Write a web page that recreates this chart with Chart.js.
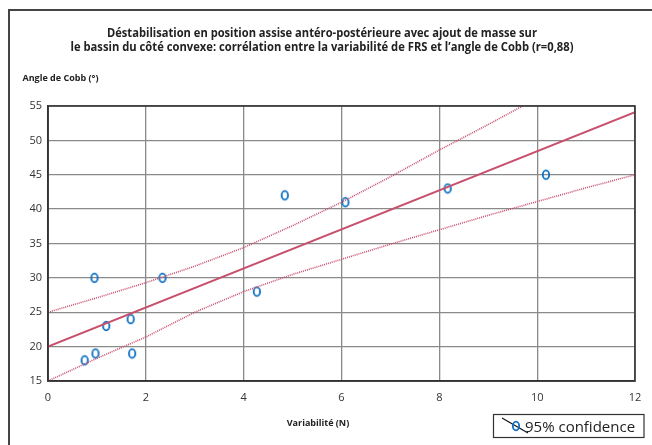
<!DOCTYPE html>
<html lang="fr">
<head>
  <meta charset="UTF-8">
  <title>Angle de Cobb vs variabilité</title>
  <style>
    body {
      margin: 0;
      padding: 0;
      background: #fff;
    }
  </style>
  <script src="https://cdn.jsdelivr.net/npm/chart.js"></script>
</head>
<body>
  <canvas id="chart" width="652" height="445"></canvas>

  <script>
    // points
    const variabilite = [0.75, 0.97, 0.95, 1.19, 1.69, 1.72, 2.34, 4.27, 4.84, 6.08, 8.17, 10.18];
    const angleCobb   = [18, 19, 30, 23, 24, 19, 30, 28, 42, 41, 43, 45];

    // regression line
    const regX = [0, 12];
    const regY = [20, 54.1];

    // 95% confidence bands
    const upperX = [0, 1, 2, 3, 4, 5, 6, 7, 8, 9, 9.7];
    const upperY = [25, 27.1, 29.3, 31.7, 34.4, 37.6, 41.0, 44.7, 48.6, 52.3, 55];
    const lowerX = [0, 1, 2, 3, 4, 5, 6, 7, 8, 9, 10, 11, 12];
    const lowerY = [15, 18.3, 21.4, 25.0, 28.0, 30.5, 32.7, 34.9, 37.0, 39.1, 41.1, 43.1, 45];

    const xTicks = [0, 2, 4, 6, 8, 10, 12];
    const yTicks = [15, 20, 25, 30, 35, 40, 45, 50, 55];

    const titleLines = [
      "Déstabilisation en position assise antéro-postérieure avec ajout de masse sur",
      "le bassin du côté convexe: corrélation entre la variabilité de FRS et l’angle de Cobb (r=0,88)"
    ];

    const toXY = (xs, ys) => xs.map((x, i) => ({ x: x, y: ys[i] }));

    // blue "O" marker
    function makeMarker() {
      const c = document.createElement("canvas");
      c.width = 10;
      c.height = 12;
      const g = c.getContext("2d");
      g.strokeStyle = "#0a6fc2";
      g.lineWidth = 1.8;
      g.beginPath();
      g.ellipse(5, 6, 3.2, 4.3, 0, 0, Math.PI * 2);
      g.stroke();
      return c;
    }
    const marker = makeMarker();

    const red = "#c8506e";

    const decorations = {
      id: "decorations",
      afterDraw(chart) {
        const ctx = chart.ctx;
        const a = chart.chartArea;
        ctx.save();

        // outer frame
        ctx.strokeStyle = "#444";
        ctx.lineWidth = 2;
        ctx.beginPath();
        ctx.moveTo(9, 450);
        ctx.lineTo(9, 10);
        ctx.lineTo(660, 10);
        ctx.stroke();

        // plot frame
        ctx.strokeStyle = "#333";
        ctx.lineWidth = 1.6;
        ctx.strokeRect(a.left, a.top, a.right - a.left, a.bottom - a.top);

        // title
        ctx.fillStyle = "#222";
        ctx.textAlign = "center";
        ctx.textBaseline = "middle";
        ctx.font = "bold 12.5px 'Open Sans'";
        ctx.fillText(titleLines[0], 322, 33, 430);
        ctx.fillText(titleLines[1], 322, 47, 503);

        // axis titles
        ctx.font = "bold 9px 'Open Sans'";
        ctx.textAlign = "left";
        ctx.fillText("Angle de Cobb (°)", 22.5, 78.5, 78);
        ctx.textAlign = "center";
        ctx.fillText("Variabilité (N)", 318, 423, 78);

        // legend
        ctx.strokeStyle = "#333";
        ctx.lineWidth = 1.2;
        ctx.strokeRect(493.5, 414.5, 150.5, 23);
        ctx.strokeStyle = "#111";
        ctx.lineWidth = 1.2;
        ctx.beginPath();
        ctx.moveTo(502, 418);
        ctx.lineTo(528, 433);
        ctx.stroke();
        ctx.drawImage(marker, 511, 420);
        ctx.fillStyle = "#222";
        ctx.textAlign = "left";
        ctx.textBaseline = "alphabetic";
        ctx.font = "15px 'Open Sans'";
        ctx.fillText("95% confidence", 525, 432, 116);

        ctx.restore();
      }
    };

    new Chart(document.getElementById("chart"), {
      type: "scatter",
      data: {
        datasets: [
          {
            label: "Confiance sup.",
            data: toXY(upperX, upperY),
            showLine: true,
            borderColor: red,
            borderWidth: 1.6,
            borderDash: [1, 1],
            pointRadius: 0
          },
          {
            label: "Confiance inf.",
            data: toXY(lowerX, lowerY),
            showLine: true,
            borderColor: red,
            borderWidth: 1.6,
            borderDash: [1, 1],
            pointRadius: 0
          },
          {
            label: "Régression",
            data: toXY(regX, regY),
            showLine: true,
            borderColor: red,
            borderWidth: 2,
            pointRadius: 0
          },
          {
            label: "Sujets",
            data: toXY(variabilite, angleCobb),
            pointStyle: marker,
            pointRadius: 5
          }
        ]
      },
      options: {
        responsive: false,
        animation: false,
        layout: {
          padding: { top: 106, right: 17, left: 0, bottom: 0 }
        },
        plugins: {
          legend: { display: false },
          tooltip: { enabled: false }
        },
        scales: {
          x: {
            type: "linear",
            min: 0,
            max: 12,
            afterFit(scale) { scale.height = 64; },
            afterBuildTicks(scale) { scale.ticks = xTicks.map(v => ({ value: v })); },
            grid: { color: "#8a8a8a", lineWidth: 1.3, drawTicks: false },
            border: { color: "#333", width: 1.6 },
            ticks: {
              padding: 10,
              color: "#333",
              font: { family: "'Open Sans'", size: 11 }
            }
          },
          y: {
            type: "linear",
            min: 15,
            max: 55,
            afterFit(scale) { scale.width = 48; },
            afterBuildTicks(scale) { scale.ticks = yTicks.map(v => ({ value: v })); },
            grid: { color: "#8a8a8a", lineWidth: 1.3, drawTicks: false },
            border: { color: "#333", width: 1.6 },
            ticks: {
              padding: 6,
              color: "#333",
              font: { family: "'Open Sans'", size: 11 }
            }
          }
        }
      },
      plugins: [decorations]
    });
  </script>
</body>
</html>
